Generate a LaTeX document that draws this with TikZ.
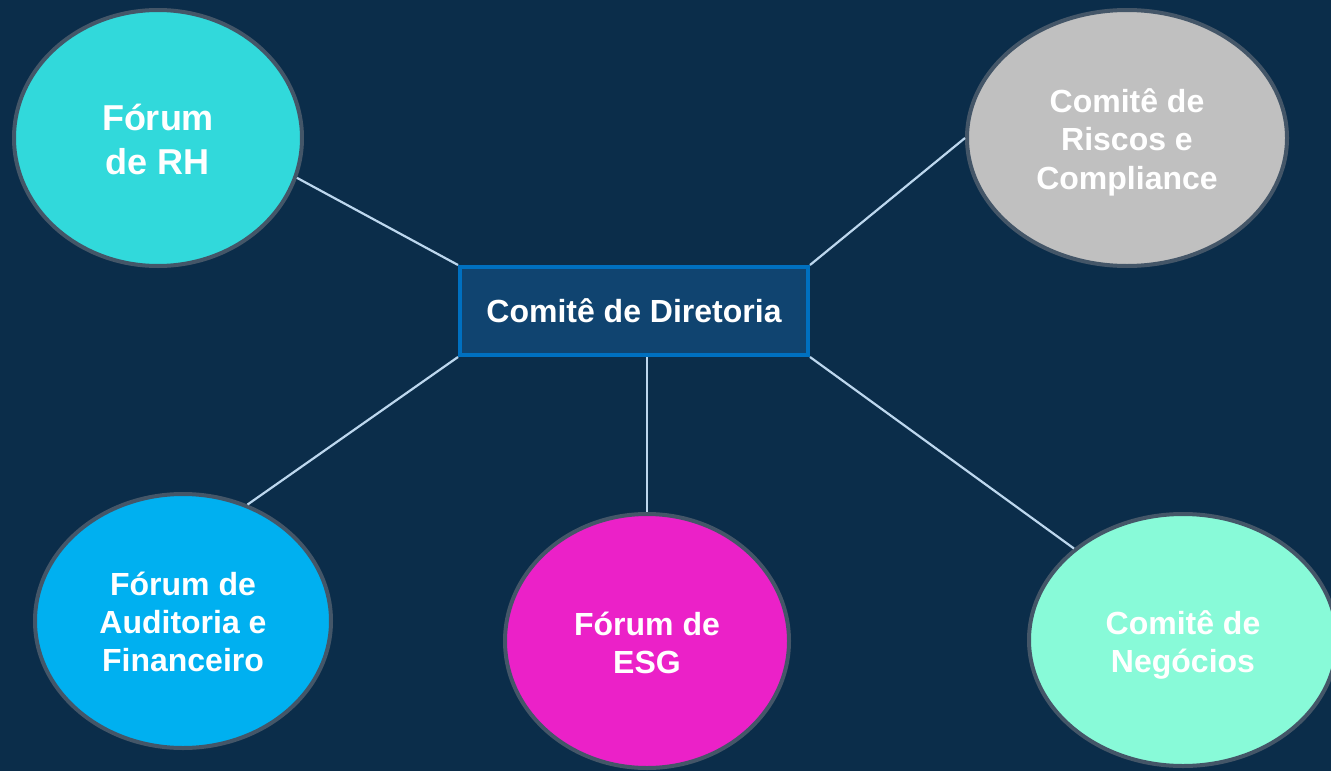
\documentclass[tikz,border=0pt]{standalone}
\usepackage{fontspec}
\setmainfont{Liberation Sans}
\usetikzlibrary{shapes.geometric}
\definecolor{bg}{RGB}{11,45,74}
\definecolor{ringcol}{RGB}{68,86,104}
\definecolor{linkcol}{RGB}{189,215,238}
\definecolor{boxfill}{RGB}{16,68,112}
\definecolor{boxline}{RGB}{0,112,192}
\definecolor{cRH}{RGB}{49,217,219}
\definecolor{cRisk}{RGB}{192,192,192}
\definecolor{cAud}{RGB}{0,176,240}
\definecolor{cESG}{RGB}{235,33,200}
\definecolor{cNeg}{RGB}{136,250,216}
\tikzset{
  bubble/.style={ellipse, draw=ringcol, line width=4pt, inner sep=0pt},
  bubbletext/.style={text=white, align=center, font=\fontsize{32}{38.4}\selectfont\bfseries},
  hubbox/.style={rectangle, draw=boxline, fill=boxfill, line width=4pt,
    minimum width=348pt, minimum height=88pt, inner sep=0pt,
    text=white, font=\fontsize{32}{38.4}\selectfont\bfseries},
  link/.style={draw=linkcol, line width=2.2pt}
}
\begin{document}
\begin{tikzpicture}[x=1pt,y=-1pt]
\fill[bg] (0,0) rectangle (1331,771);
\useasboundingbox (0,0) rectangle (1331,771);
\begin{scope}
\clip (0,0) rectangle (1331,771);
\node[hubbox] (hub) at (634,311) {Comitê de Diretoria};
\node[bubble, fill=cRH, minimum width=288pt, minimum height=256pt] (rh) at (158,138) {};
\node[bubbletext, font=\fontsize{36}{44}\selectfont\bfseries] (rhtxt) at (158,139) {Fórum\\de RH};
\node[bubble, fill=cRisk, minimum width=320pt, minimum height=256pt] (risk) at (1127,138) {};
\node[bubbletext] (risktxt) at (1127,142) {Comitê de\\Riscos e\\Compliance};
\node[bubble, fill=cAud, minimum width=296pt, minimum height=254pt] (aud) at (183,621) {};
\node[bubbletext] (audtxt) at (183,622) {Fórum de\\Auditoria e\\Financeiro};
\node[bubble, fill=cESG, minimum width=284pt, minimum height=254pt] (esg) at (647,641) {};
\node[bubbletext] (esgtxt) at (647,643) {Fórum de\\ESG};
\node[bubble, fill=cNeg, minimum width=308pt, minimum height=252pt] (neg) at (1183,640) {};
\node[bubbletext] (negtxt) at (1183,645) {Comitê de\\Negócios};
\end{scope}
\draw[link] (hub.north west) -- (rh.-16);
\draw[link] (hub.north east) -- (risk.180);
\draw[link] (hub.south west) -- (aud.61);
\draw[link] (esg.north) -- (esg.north |- hub.south);
\draw[link] (hub.south east) -- (neg.140);
\end{tikzpicture}
\end{document}
